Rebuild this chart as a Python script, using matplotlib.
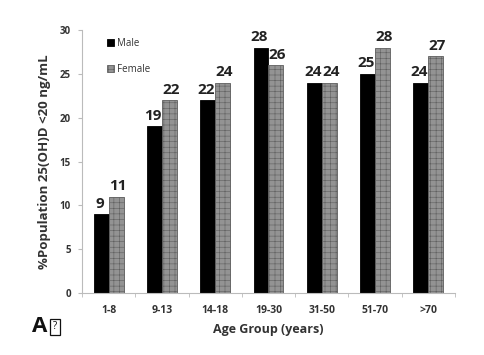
import numpy as np
import matplotlib.pyplot as plt

plt.rcParams['font.family'] = ['Open Sans', 'DejaVu Sans']
plt.rcParams['hatch.linewidth'] = 0.4

groups = ["1-8", "9-13", "14-18", "19-30", "31-50", "51-70", ">70"]
male = [9, 19, 22, 28, 24, 25, 24]
female = [11, 22, 24, 26, 24, 28, 27]

fig = plt.figure(figsize=(4.85, 3.55), dpi=100)
ax = fig.add_axes([0.169, 0.175, 0.769, 0.74])

x = np.arange(len(groups))
w = 0.28
mb = ax.bar(x - w / 2, male, w, color='black', edgecolor='black', linewidth=0.6, label='Male')
fb = ax.bar(x + w / 2, female, w, color='#939393', edgecolor='#5e5e5e', hatch='+++',
            linewidth=0.6, label='Female')

for b, v in zip(mb, male):
    ax.text(b.get_x() + b.get_width() / 2 - 0.03, v + 0.4, str(v), ha='center', va='bottom',
            fontsize=11, fontweight='bold', color='#222222')
for b, v in zip(fb, female):
    ax.text(b.get_x() + b.get_width() / 2 + 0.03, v + 0.4, str(v), ha='center', va='bottom',
            fontsize=11, fontweight='bold', color='#222222')

ax.set_xlim(-0.5, len(groups) - 0.5)
ax.set_ylim(0, 30)
ax.set_yticks(range(0, 31, 5))
ax.set_xticks(x)
ax.set_xticklabels(groups)
ax.set_xticks(np.arange(-0.5, len(groups), 1), minor=True)
ax.tick_params(axis='x', which='major', length=0, pad=9, labelsize=7.5, labelcolor='#333333')
ax.tick_params(axis='x', which='minor', length=3, color='#bbbbbb', direction='out')
ax.tick_params(axis='y', length=3, color='#bbbbbb', labelsize=7, labelcolor='#333333', pad=5)
for t in ax.get_xticklabels() + ax.get_yticklabels():
    t.set_fontweight('bold')

for s in ['top', 'right']:
    ax.spines[s].set_visible(False)
for s in ['left', 'bottom']:
    ax.spines[s].set_color('#bbbbbb')
    ax.spines[s].set_linewidth(0.8)

ax.set_ylabel('%Population 25(OH)D <20 ng/mL', fontsize=9.5, fontweight='bold', color='#333333',
              labelpad=6)
ax.set_xlabel('Age Group (years)', fontsize=9, fontweight='bold', color='#333333', labelpad=5)

leg = ax.legend(loc='upper left', bbox_to_anchor=(0.045, 1.005), frameon=False, fontsize=7,
                handlelength=0.7, handleheight=0.7, labelspacing=1.55, handletextpad=0.3)
for t in leg.get_texts():
    t.set_color('#333333')

fig.text(0.066, 0.079, 'A', fontsize=16, fontweight='bold', color='#111111', va='center')
fig.text(0.114, 0.079, '?', fontsize=7, color='#111111', va='center', ha='center',
         bbox=dict(boxstyle='square,pad=0.3', facecolor='white', edgecolor='#111111', linewidth=0.9))

fig.savefig('out.png', dpi=100)
